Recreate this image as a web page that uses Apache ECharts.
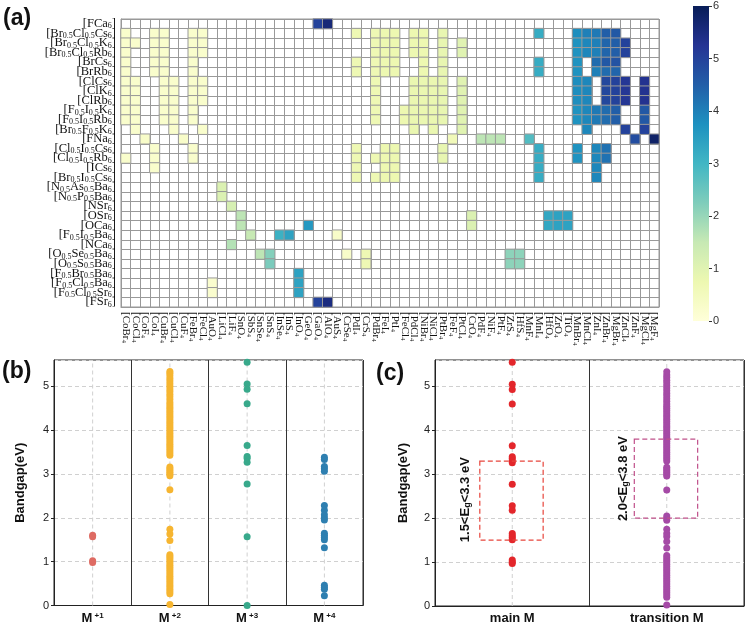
<!DOCTYPE html>
<html><head><meta charset="utf-8">
<script src="https://cdn.jsdelivr.net/npm/echarts@6/dist/echarts.min.js"></script>
<style>html,body{margin:0;padding:0;background:#fff}#c{width:747px;height:625px}</style>
</head><body><div id="c"></div>
<script>
// ---------- (a) heatmap ----------
const rowLabels = ['[FCa6]','[Br0.5Cl0.5Cs6]','[Br0.5Cl0.5K6]','[Br0.5Cl0.5Rb6]','[BrCs6]','[BrRb6]','[ClCs6]','[ClK6]','[ClRb6]',
  '[F0.5I0.5K6]','[F0.5I0.5Rb6]','[Br0.5F0.5K6]','[FNa6]','[Cl0.5I0.5Cs6]','[Cl0.5I0.5Rb6]','[ICs6]','[Br0.5I0.5Cs6]',
  '[N0.5As0.5Ba6]','[N0.5P0.5Ba6]','[NSr6]','[OSr6]','[OCa6]','[F0.5I0.5Ba6]','[NCa6]','[O0.5Se0.5Ba6]','[O0.5S0.5Ba6]',
  '[F0.5Br0.5Ba6]','[F0.5Cl0.5Ba6]','[F0.5Cl0.5Sr6]','[FSr6]'];
const colLabels = ['[CoBr4','[CoCl4','[CoF4','[CoI4','[CuBr4','[CuCl4','[CuF4','[FeBr4','[FeCl4','[AuO4','[LiCl4','[LiF4',
  '[SnO4','[SbS4','[SnSe4','[SnS4','[InSe4','[InS4','[InO4','[GeO4','[GaO4','[AlO4','[AuS4','[CrSe4','[PdI4','[CrS4','[PdBr4',
  '[FeI4','[PtI4','[FeCl4','[PdCl4','[NiBr4','[NiCl4','[PtBr4','[FeF4','[PtCl4','[CrO4','[PdF4','[NiF4','[PtF4','[ZrS4','[HfS4',
  '[MnF4','[MnI4','[HfO4','[ZrO4','[TiO4','[MnBr4','[MnCl4','[ZnI4','[ZnBr4','[MgBr4','[ZnCl4','[ZnF4','[MgCl4','[MgF4'];
// [column, row, bandgap eV]
const heatCells = [
  [20,0,5.0],[21,0,5.6],
  [0,1,.25],[3,1,.25],[4,1,.25],[7,1,.25],[8,1,.25],[24,1,.7],[26,1,.7],[27,1,.75],[28,1,.75],[30,1,.75],[31,1,.75],[33,1,.85],[43,1,3.2],[47,1,3.8],[48,1,4.0],[49,1,4.1],[50,1,4.5],[51,1,4.6],
  [0,2,.25],[1,2,.25],[3,2,.25],[4,2,.25],[7,2,.25],[8,2,.25],[26,2,.7],[27,2,.75],[28,2,.75],[30,2,.75],[31,2,.75],[33,2,.85],[35,2,1.0],[47,2,3.7],[48,2,3.9],[49,2,4.0],[50,2,4.4],[51,2,4.5],[52,2,5.0],
  [0,3,.25],[3,3,.25],[4,3,.25],[7,3,.25],[8,3,.25],[26,3,.7],[27,3,.75],[28,3,.75],[30,3,.75],[31,3,.75],[33,3,.85],[35,3,1.0],[47,3,3.7],[48,3,3.9],[49,3,4.0],[50,3,4.4],[51,3,4.5],[52,3,5.0],
  [0,4,.25],[3,4,.25],[4,4,.25],[7,4,.25],[24,4,.7],[26,4,.7],[27,4,.75],[28,4,.75],[31,4,.75],[33,4,.85],[43,4,3.2],[47,4,3.7],[49,4,4.3],[50,4,4.6],[51,4,4.7],
  [0,5,.25],[3,5,.25],[4,5,.25],[7,5,.25],[24,5,.7],[26,5,.7],[27,5,.75],[28,5,.75],[31,5,.75],[33,5,.85],[43,5,3.2],[47,5,3.7],[49,5,4.0],[50,5,4.3],[51,5,4.4],
  [0,6,.25],[1,6,.25],[4,6,.25],[5,6,.25],[7,6,.25],[8,6,.25],[26,6,.7],[30,6,.8],[31,6,.8],[32,6,.8],[33,6,.85],[35,6,1.0],[47,6,3.8],[48,6,3.9],[50,6,4.9],[51,6,5.0],[52,6,5.2],[54,6,5.3],
  [0,7,.25],[1,7,.25],[4,7,.25],[5,7,.25],[7,7,.25],[8,7,.25],[26,7,.7],[30,7,.8],[31,7,.8],[32,7,.8],[33,7,.85],[35,7,1.0],[47,7,3.8],[48,7,3.9],[50,7,4.9],[51,7,5.0],[52,7,5.2],[54,7,5.3],
  [0,8,.25],[1,8,.25],[4,8,.25],[5,8,.25],[7,8,.25],[8,8,.25],[26,8,.7],[30,8,.8],[31,8,.8],[32,8,.8],[33,8,.85],[35,8,1.0],[47,8,3.8],[48,8,3.9],[50,8,4.9],[51,8,5.0],[52,8,5.2],[54,8,5.3],
  [0,9,.25],[1,9,.25],[4,9,.25],[5,9,.25],[7,9,.25],[26,9,.7],[29,9,.75],[30,9,.8],[31,9,.8],[32,9,.8],[33,9,.85],[35,9,1.0],[47,9,3.7],[48,9,3.9],[49,9,4.1],[50,9,4.3],[51,9,4.5],[54,9,4.6],
  [0,10,.25],[1,10,.25],[4,10,.25],[5,10,.25],[7,10,.25],[26,10,.7],[29,10,.75],[30,10,.8],[31,10,.8],[32,10,.8],[33,10,.85],[35,10,1.0],[47,10,3.7],[48,10,3.9],[49,10,4.1],[50,10,4.3],[51,10,4.5],[54,10,4.6],
  [1,11,.25],[5,11,.25],[8,11,.25],[30,11,.8],[32,11,.8],[35,11,1.0],[48,11,3.9],[52,11,5.0],[54,11,5.0],
  [2,12,.3],[6,12,.3],[34,12,.6],[37,12,1.6],[38,12,1.6],[39,12,1.6],[42,12,2.8],[53,12,4.8],[55,12,5.8],
  [3,13,.25],[7,13,.25],[24,13,.7],[27,13,.75],[28,13,.75],[33,13,.85],[43,13,3.2],[47,13,3.7],[49,13,3.9],[50,13,4.2],
  [0,14,.25],[3,14,.25],[7,14,.25],[24,14,.7],[26,14,.7],[27,14,.75],[28,14,.75],[33,14,.85],[43,14,3.2],[47,14,3.7],[49,14,3.9],[50,14,4.2],
  [3,15,.25],[24,15,.7],[27,15,.75],[28,15,.75],[43,15,3.2],[49,15,3.9],
  [24,16,.7],[26,16,.7],[27,16,.75],[28,16,.75],[43,16,3.2],[49,16,3.9],
  [10,17,1.1],[10,18,1.1],[11,19,1.2],
  [12,20,1.6],[36,20,1.1],[44,20,3.3],[45,20,3.4],[46,20,3.4],
  [12,21,1.6],[19,21,3.6],[36,21,1.1],[44,21,3.3],[45,21,3.4],[46,21,3.4],
  [13,22,1.5],[16,22,3.1],[17,22,3.4],[22,22,.3],
  [11,23,1.7],
  [14,24,1.6],[15,24,2.2],[23,24,.3],[25,24,.7],[40,24,2.1],[41,24,2.1],
  [15,25,2.3],[25,25,.7],[40,25,2.1],[41,25,2.1],
  [18,26,3.4],[9,27,.2],[18,27,3.4],[9,28,.2],[18,28,3.4],
  [20,29,5.0],[21,29,5.5]
];
const colorbarMax = 6;
const ylgnbu = ['#ffffd9','#edf8b1','#c7e9b4','#7fcdbb','#41b6c4','#1d91c0','#225ea8','#253494','#081d58'];

// ---------- (b) ----------
const bCats = ['M+1','M+2','M+3','M+4'];
const bM1 = [1.60, 1.57, 1.02, 0.98];
const bM2 = [0.02,0.27,0.32,0.37,0.42,0.47,0.52,0.57,0.62,0.67,0.72,0.77,0.82,0.87,0.92,0.97,1.02,1.07,1.12,1.16,
  1.48,1.63,1.74,2.64,2.96,3.00,3.04,3.08,3.12,3.16,
  3.43,3.48,3.53,3.58,3.63,3.68,3.73,3.78,3.83,3.88,3.93,3.98,4.03,4.08,4.13,4.18,4.23,4.28,4.33,4.38,4.43,4.48,4.53,4.58,4.63,
  4.70,4.76,4.82,4.88,4.94,5.00,5.06,5.12,5.18,5.24,5.30,5.34];
const bM3 = [5.55, 5.05, 4.93, 4.60, 3.65, 3.40, 3.36, 3.27, 2.77, 1.57, 0.0];
const bM4 = [3.38, 3.33, 3.17, 3.12, 3.06, 2.28, 2.17, 2.07, 2.00, 1.95, 1.65, 1.60, 1.55, 1.50, 1.32, 0.46, 0.41, 0.37, 0.22];

// ---------- (c) ----------
const cCats = ['main M','transition M'];
const cMain = [5.55, 5.05, 4.93, 4.60, 3.65, 3.40, 3.36, 3.30, 3.26, 2.77, 2.28, 2.18, 1.65, 1.60, 1.56, 1.51, 1.05, 1.00, 0.97];
const cTrans = [0.02,0.20,0.25,0.30,0.35,0.40,0.45,0.50,0.55,0.60,0.65,0.70,0.75,0.80,0.85,0.90,0.95,1.00,1.05,1.10,1.15,
  1.32,1.47,1.58,1.65,1.75,1.95,2.00,2.05,2.64,2.96,3.00,3.04,3.08,3.12,3.16,
  3.30,3.35,3.40,3.45,3.50,3.55,3.60,3.65,3.70,3.75,3.80,3.85,3.90,3.95,4.00,4.05,4.10,4.15,4.20,4.25,4.30,4.35,4.40,4.45,4.50,4.55,4.60,
  4.66,4.72,4.78,4.84,4.90,4.96,5.02,5.08,5.14,5.20,5.26,5.33];
// range boxes: [xFrom, xTo, yFrom, yTo] in category-index units, and label anchors
const cBoxes = [[-0.21, 0.20, 1.5, 3.3], [0.79, 1.20, 2.0, 3.8]];
const cBoxLabels = [[-0.30, 2.42, '1.5', '3.3'], [0.72, 2.9, '2.0', '3.8']];
const yTop = 5.6;

function chem(s, n, sub) {
  return s.replace(/([0-9.]+)|([^0-9.]+)/g, (m, d, t) => d ? '{' + sub + '|' + d + '}' : '{' + n + '|' + t + '}');
}
const serif = '"Liberation Serif","DejaVu Serif",serif';
const sans = '"Liberation Sans",Arial,sans-serif';

const chart = echarts.init(document.getElementById('c'));
const dashed = {show: true, lineStyle: {color: '#d0d0d0', type: [4, 3], width: 1}};

function catX(grid, cats) {
  return {
    type: 'category', gridIndex: grid, data: cats, boundaryGap: true,
    axisLine: {onZero: false, lineStyle: {color: '#222'}}, axisTick: {show: false},
    splitLine: {show: true, lineStyle: {color: '#333', width: 1}},
    axisLabel: {interval: 0, margin: 6, fontFamily: sans, fontWeight: 'bold', fontSize: 13, color: '#111',
      formatter: v => v.indexOf('+') === 1 ? '{m|M}{p| ' + v.slice(1) + '}' : v,
      rich: {m: {fontFamily: sans, fontWeight: 'bold', fontSize: 13, color: '#111'},
             p: {fontFamily: sans, fontWeight: 'bold', fontSize: 8, color: '#111', verticalAlign: 'top', padding: [0, 0, 6, 0]}}}
  };
}
function valY(grid, gap) {
  return {
    type: 'value', gridIndex: grid, min: 0, max: yTop, interval: 1,
    name: 'Bandgap(eV)', nameLocation: 'middle', nameGap: gap,
    nameTextStyle: {fontFamily: sans, fontWeight: 'bold', fontSize: 13, color: '#111'},
    axisLine: {show: true, onZero: false, lineStyle: {color: '#222'}},
    axisTick: {show: true, length: 3, lineStyle: {color: '#222'}},
    axisLabel: {showMaxLabel: false, fontFamily: sans, fontSize: 11, color: '#222', margin: 5},
    splitLine: dashed
  };
}
function pts(vals, idx) { return vals.map(v => [idx, v]); }
function scat(name, xi, yi, data, color) {
  return {type: 'scatter', name, xAxisIndex: xi, yAxisIndex: yi, data, symbolSize: 7, z: 5,
    itemStyle: {color, opacity: 1}};
}
function centerGuides(xi, yi, cats) {
  return {type: 'custom', xAxisIndex: xi, yAxisIndex: yi, z: 1, silent: true,
    data: cats.map((c, i) => [i]),
    renderItem: (params, api) => {
      const a = api.coord([api.value(0), 0]);
      const b = api.coord([api.value(0), yTop]);
      return {type: 'line', shape: {x1: a[0], y1: a[1], x2: b[0], y2: b[1]},
        style: {stroke: '#d0d0d0', lineWidth: 1, lineDash: [4, 3]}};
    }};
}

const option = {
  animation: false,
  backgroundColor: '#fff',
  grid: [
    {left: 121, top: 19, width: 538, height: 288, show: true, borderColor: '#999', borderWidth: 1},
    {left: 693, top: 6, width: 16, height: 315},
    {left: 54, top: 360, width: 309, height: 249, show: true, borderColor: '#222', borderWidth: 1},
    {left: 435, top: 360, width: 309, height: 249, show: true, borderColor: '#222', borderWidth: 1}
  ],
  visualMap: {show: false, type: 'continuous', min: 0, max: colorbarMax, seriesIndex: 0, inRange: {color: ylgnbu}},
  xAxis: [
    {type: 'category', gridIndex: 0, data: colLabels,
      axisLine: {lineStyle: {color: '#999'}},
      axisTick: {alignWithLabel: true, length: 3, lineStyle: {color: '#333'}},
      splitLine: {show: true, interval: 0, lineStyle: {color: '#999', width: 1}},
      axisLabel: {interval: 0, rotate: -90, margin: 5, color: '#111',
        formatter: v => chem(v, 'n', 's'),
        rich: {n: {fontFamily: serif, fontSize: 11, color: '#111'}, s: {fontFamily: serif, fontSize: 7, color: '#111', verticalAlign: 'bottom'}}}},
    {type: 'category', gridIndex: 1, data: ['c'], show: false},
    catX(2, bCats),
    catX(3, cCats),
    {type: 'value', gridIndex: 3, min: -0.5, max: 1.5, show: false}
  ],
  yAxis: [
    {type: 'category', gridIndex: 0, data: rowLabels, inverse: true,
      axisLine: {lineStyle: {color: '#999'}},
      axisTick: {alignWithLabel: true, length: 3, lineStyle: {color: '#333'}},
      splitLine: {show: true, interval: 0, lineStyle: {color: '#999', width: 1}},
      axisLabel: {interval: 0, margin: 5, color: '#111',
        formatter: v => chem(v, 'n', 's'),
        rich: {n: {fontFamily: serif, fontSize: 12.5, color: '#111'}, s: {fontFamily: serif, fontSize: 8, color: '#111', verticalAlign: 'bottom'}}}},
    {type: 'value', gridIndex: 1, min: 0, max: colorbarMax, interval: 1, position: 'right',
      axisLine: {show: false}, splitLine: {show: false},
      axisTick: {show: true, length: 3, lineStyle: {color: '#333'}},
      axisLabel: {fontFamily: sans, fontSize: 11, color: '#333', margin: 4}},
    valY(2, 27),
    valY(3, 25)
  ],
  series: [
    {type: 'heatmap', xAxisIndex: 0, yAxisIndex: 0, data: heatCells,
      itemStyle: {borderColor: '#999', borderWidth: 1}, emphasis: {disabled: true}},
    {type: 'bar', xAxisIndex: 1, yAxisIndex: 1, data: [colorbarMax], barWidth: '100%', silent: true,
      itemStyle: {color: {type: 'linear', x: 0, y: 1, x2: 0, y2: 0,
        colorStops: ylgnbu.map((c, i) => ({offset: i / (ylgnbu.length - 1), color: c}))}}},
    centerGuides(2, 2, bCats),
    centerGuides(3, 3, cCats),
    scat('M+1', 2, 2, pts(bM1, 0), '#de6b63'),
    scat('M+2', 2, 2, pts(bM2, 1), '#f6b530'),
    scat('M+3', 2, 2, pts(bM3, 2), '#38a98b'),
    scat('M+4', 2, 2, pts(bM4, 3), '#2e7fb0'),
    scat('main M', 3, 3, pts(cMain, 0), '#e3262b'),
    scat('transition M', 3, 3, pts(cTrans, 1), '#a54aa6'),
    {type: 'custom', xAxisIndex: 4, yAxisIndex: 3, data: cBoxes, z: 6, silent: true,
      renderItem: (params, api) => {
        const p0 = api.coord([api.value(0), api.value(3)]);
        const p1 = api.coord([api.value(1), api.value(2)]);
        const col = params.dataIndex === 0 ? '#e8453c' : '#c0508a';
        return {type: 'rect', shape: {x: p0[0], y: p0[1], width: p1[0] - p0[0], height: p1[1] - p0[1]},
          style: {fill: 'none', stroke: col, lineWidth: 1.2, lineDash: [5, 3]}};
      }},
    {type: 'custom', xAxisIndex: 4, yAxisIndex: 3, data: cBoxLabels, z: 6, silent: true,
      renderItem: (params, api) => {
        const d = cBoxLabels[params.dataIndex];
        const p = api.coord([d[0], d[1]]);
        return {type: 'text', x: p[0], y: p[1], rotation: Math.PI / 2,
          style: {text: '{a|' + d[2] + '<E}{g|g}{a|<' + d[3] + ' eV}', align: 'center', verticalAlign: 'middle',
            rich: {a: {fontFamily: sans, fontWeight: 'bold', fontSize: 13, fill: '#111'},
                   g: {fontFamily: sans, fontWeight: 'bold', fontSize: 9, fill: '#111', verticalAlign: 'bottom'}}}};
      }}
  ],
  graphic: [
    {type: 'text', left: 3, top: 7, style: {text: '(a)', font: 'bold 23px ' + sans, fill: '#111'}},
    {type: 'text', left: 2, top: 360, style: {text: '(b)', font: 'bold 23px ' + sans, fill: '#111'}},
    {type: 'text', left: 376, top: 362, style: {text: '(c)', font: 'bold 23px ' + sans, fill: '#111'}}
  ]
};
chart.setOption(option);
</script></body></html>
